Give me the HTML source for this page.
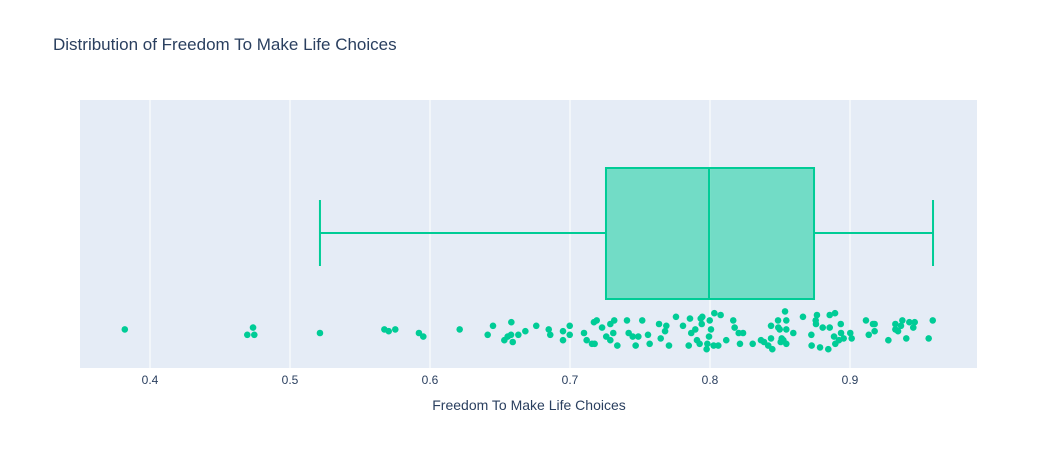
<!DOCTYPE html>
<html><head><meta charset="utf-8"><style>
body{margin:0;background:#fff;}
svg{display:block;font-family:"Liberation Sans",sans-serif;}
</style></head><body>
<svg id="chart" width="1058" height="450">
<rect x="0" y="0" width="1058" height="450" fill="#fff"/>
<text x="53" y="50" font-size="17" fill="#2a3f5f">Distribution of Freedom To Make Life Choices</text>
<rect x="80" y="100" width="897" height="268" fill="#e5ecf6"/>
<g id="grid"></g><g id="marks"></g><g id="ticks"></g>
<text x="529" y="410" font-size="14" fill="#2a3f5f" text-anchor="middle">Freedom To Make Life Choices</text>
</svg>
<script>
const tickValues=[0.4,0.5,0.6,0.7,0.8,0.9];
const tickLabels=["0.4","0.5","0.6","0.7","0.8","0.9"];
const boxStats=[0.5214,0.7257,0.7993,0.8743,0.9593]; // lower fence, q1, median, q3, upper fence
const values=[0.382,0.4736,0.4695,0.4745,0.5214,0.5674,0.5705,0.5752,0.5921,0.5952,0.6212,
0.6412,0.645,0.6581,0.6531,0.6555,0.6579,0.6591,0.6631,0.6681,0.6759,0.6848,0.6859,0.695,0.695,0.6998,0.6998,0.71,0.7119,0.7157,0.7176,0.7171,0.7191,0.7229,0.7259,0.7288,0.7288,0.7316,0.7309,0.7338,0.7407,0.7419,0.7448,0.7469,0.7488,0.7516,0.7557,0.7569,0.7636,0.7648,0.7679,0.7688,0.7707,0.7757,0.7807,0.7857,0.7866,0.7895,0.7848,0.7907,0.7926,0.7934,0.7945,0.7941,0.7998,0.8007,0.7993,0.7981,0.7976,0.8026,0.8031,0.8059,
0.8076,0.8166,0.8176,0.8205,0.8236,0.8116,0.8214,0.8305,0.8364,0.8386,0.8416,0.8445,0.8436,0.8436,0.8486,0.8488,0.8498,0.8536,0.8545,0.8545,0.8512,0.8524,0.8505,0.8545,0.8595,0.8664,0.8724,0.8726,0.8764,0.8755,0.8757,0.8805,0.8786,0.8845,0.8855,0.8855,0.8893,0.8934,0.8936,0.8886,0.8921,0.8955,0.8895,0.9002,0.9012,0.9114,0.9164,0.9176,0.9176,0.9134,0.9274,0.9324,0.9324,0.9343,0.9364,0.9374,0.9424,0.9462,0.9452,0.9402,0.9591,0.9562];
const jitter=[-0.2,-0.3,0.1,0.1,0,-0.2,-0.1,-0.2,0,0.2,-0.2,
0.1,-0.4,-0.6,0.4,0.2,0.1,0.5,0.1,-0.1,-0.4,-0.2,0.1,-0.1,0.4,-0.4,0.1,0,0.4,0.6,0.6,-0.6,-0.7,-0.3,0.2,0.4,-0.5,-0.7,0,0.7,-0.7,0,0.2,0.7,0.2,-0.7,0.1,0.6,-0.5,0.3,-0.1,-0.4,0.7,-0.9,-0.4,-0.8,0,-0.2,0.7,0.4,0.6,-0.8,-0.9,-0.5,-0.7,-0.2,0.2,0.6,0.9,0.7,-1.1,0.7,
-1,-0.7,-0.3,0,0,0.4,0.6,0.6,0.4,0.5,0.7,0.9,0.3,-0.4,-0.7,-0.3,-0.2,-1.2,-0.7,-0.2,0.3,0.4,0.5,0.6,0,-0.9,0.1,0.7,-1,-0.7,-0.5,-0.3,0.8,0.9,-1,-0.3,-1.1,-0.5,0,0.2,0.4,0.3,0.6,0,0.3,-0.7,-0.5,-0.5,-0.1,0.1,0.4,-0.5,-0.2,-0.1,-0.4,-0.7,-0.6,-0.6,-0.3,0.3,-0.7,0.3];
const NS="http://www.w3.org/2000/svg";
const x=v=>150+(v-0.4)*1400;
const pointY=j=>333+j*18;
function mk(tag,attrs,parent){const e=document.createElementNS(NS,tag);for(const k in attrs)e.setAttribute(k,attrs[k]);parent.appendChild(e);return e;}
const grid=document.getElementById('grid'),marks=document.getElementById('marks'),ticks=document.getElementById('ticks');
tickValues.forEach((t,i)=>{
 const l=mk('line',{x1:x(t),x2:x(t),y1:100,y2:368,stroke:'#fff','stroke-width':1},grid);
 
 
 const tx=mk('text',{x:x(t),y:384,'font-size':12,fill:'#2a3f5f','text-anchor':'middle'},ticks);
 tx.textContent=tickLabels[i];
 
 
});
const c='#00cc96';
const [lo,q1,med,q3,hi]=boxStats;
const w1=mk('line',{x1:x(lo),x2:x(q1),y1:233,y2:233,stroke:c,'stroke-width':2},marks);


const w2=mk('line',{x1:x(q3),x2:x(hi),y1:233,y2:233,stroke:c,'stroke-width':2},marks);


const c1=mk('line',{x1:x(lo),x2:x(lo),y1:200,y2:266,stroke:c,'stroke-width':2},marks);


const c2=mk('line',{x1:x(hi),x2:x(hi),y1:200,y2:266,stroke:c,'stroke-width':2},marks);


const box=mk('rect',{x:x(q1),y:168,width:x(q3)-x(q1),height:131,fill:'rgba(0,204,150,0.5)',stroke:c,'stroke-width':2},marks);


const m=mk('line',{x1:x(med),x2:x(med),y1:168,y2:299,stroke:c,'stroke-width':2},marks);


values.forEach((v,i)=>{
 const p=mk('circle',{cx:x(v),cy:pointY(jitter[i]),r:3.3,fill:c},marks);
 
 
});
</script>
</body></html>
